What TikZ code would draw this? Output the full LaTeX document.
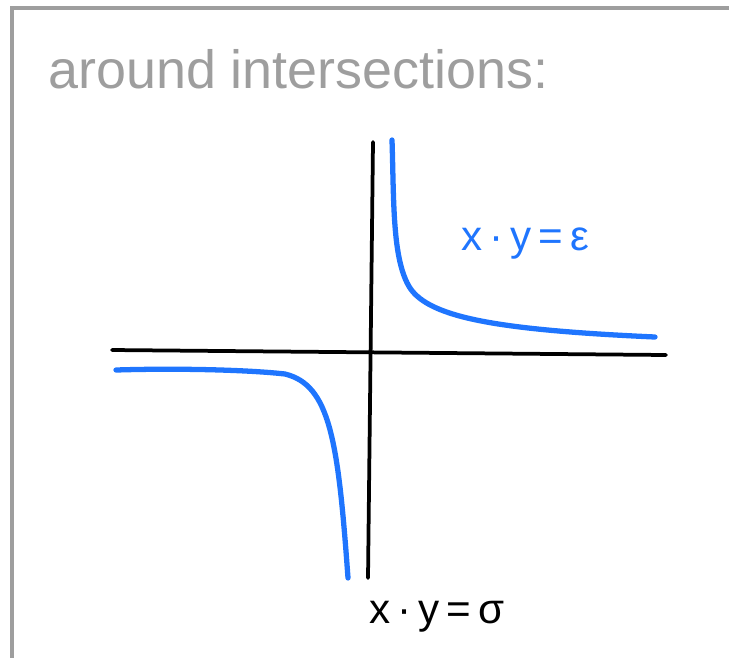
\documentclass[tikz,border=0pt]{standalone}
\usepackage{fontspec}
\setmainfont{Liberation Sans}
\usepackage{tikz}
\usetikzlibrary{calc, arrows.meta}
\usetikzlibrary{positioning}
\definecolor{penblue}{RGB}{31,117,254}
\definecolor{pengray}{RGB}{158,158,158}
\tikzset{
  frameline/.style={pengray,line width=3pt},
  axisline/.style={black,line width=3.2pt,line cap=round},
  curveline/.style={penblue,line width=4.5pt,line cap=round,line join=round},
  hand/.style={inner sep=0pt,font=\fontsize{36}{40}\selectfont},
}

\begin{document}
\begin{tikzpicture}[x=0.03cm,y=-0.03cm]
        \useasboundingbox (0,0) rectangle (729,658);
        \draw[frameline] (729,8)--(12,8)--(12,658); %枠
        \node[hand,anchor=base west,text=pengray,font=\fontsize{46}{48}\selectfont] (title) at (48,88) {around intersections:};
        \draw[axisline] (112,350)--(666,355); %x軸
        \draw[axisline] (373,142)--(368,578); %y軸
        \coordinate (o) at (370.5,352.5); %原点
        \draw[curveline] (392,140) .. controls (394,200) and (392,260) .. (410,288)
            .. controls (430,318) and (500,330) .. (655,337);
        \draw[curveline] (116,370) .. controls (180,368) and (250,370) .. (285,374)
            .. controls (330,385) and (338,440) .. (348,578);
        \node[hand,text=penblue,anchor=base] (eps) at (525,250) {x\,·\,y\,=\,ε};
        \node[hand,anchor=base] (sigma) at (437,623) {x\,·\,y\,=\,σ};
    \end{tikzpicture}
\end{document}
